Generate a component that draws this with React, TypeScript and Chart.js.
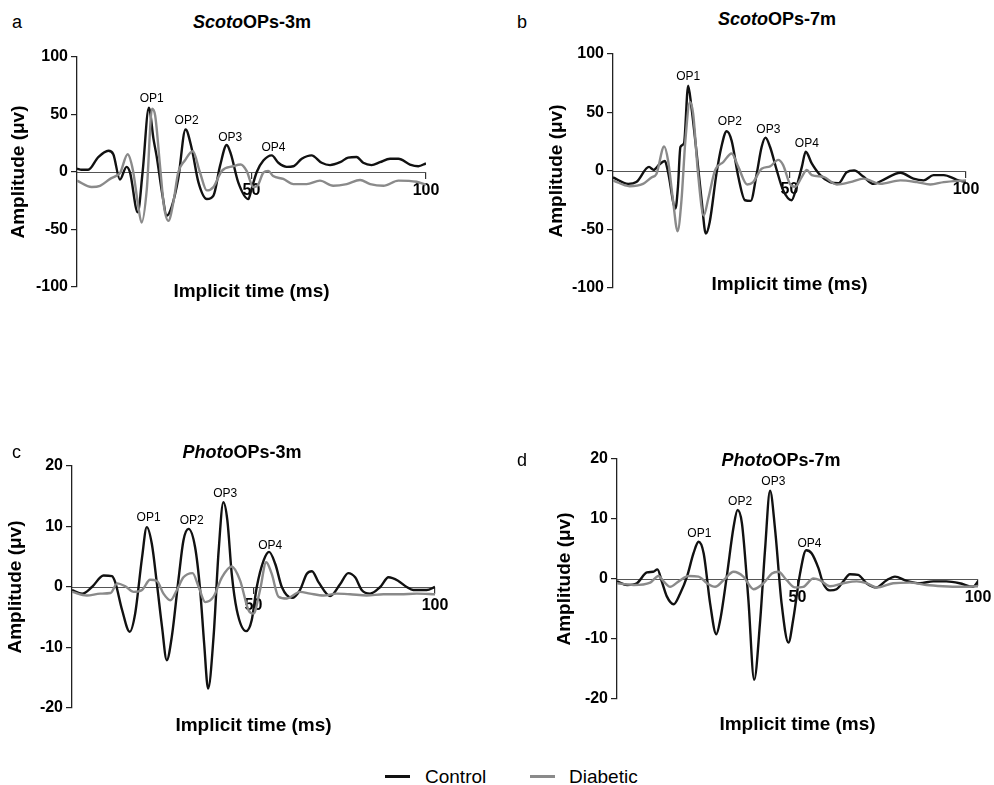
import React, { useEffect, useRef } from "react";
import { Chart, registerables } from "chart.js";

Chart.register(...registerables);

const FONT = "'Liberation Sans', Arial, Helvetica, sans-serif";

// ---------- Data ----------
const opNames = ["OP1", "OP2", "OP3", "OP4"];
const xTickValues = [50, 100];

// a) Scoto OPs 3m
const scoto3ControlTime = [0, 1.3, 3.2, 6.1, 9.0, 10.4, 12.3, 14.2, 15.2, 17.4, 18.8, 20.6, 21.9, 22.8, 24.5, 25.7, 27.1, 29.0, 31.1, 32.9, 34.8, 37.2, 39.1, 41.0, 42.9, 44.1, 46.2, 49.1, 50.0, 51.5, 53.4, 55.8, 57.7, 60.1, 62.0, 64.4, 67.2, 70.1, 72.5, 75.4, 77.7, 80.1, 82.0, 84.4, 86.8, 89.7, 92.1, 95.4, 97.8, 100];
const scoto3ControlAmp = [3, 2, 2, 13, 18.5, 15.5, -6.5, 4.5, -0.5, -35, 0, 56, 29, 14, -20.5, -38, -30.5, -6, 37, 20, -9, -23.5, -20.5, 5.5, 23.5, 15.5, -9, -23.5, -15, 0, 10, 14.5, 8, 4.5, 5, 11.5, 14.5, 8, 6, 8.5, 12.5, 13, 8, 6, 8.5, 11.5, 11.5, 6.5, 5, 7.5];
const scoto3DiabeticTime = [0, 4.2, 6.6, 9.5, 11.4, 12.4, 14.5, 16, 17.4, 18.5, 20, 21.5, 22.4, 23.8, 24.9, 26.2, 27.6, 29, 30.9, 33.2, 35.2, 37.2, 39.1, 41.5, 44.8, 46.9, 48.6, 50.5, 51.7, 53.4, 54.8, 56.2, 59.1, 62, 65.8, 69.6, 73.4, 77.3, 81.1, 84, 87.8, 92.1, 97.3, 100];
const scoto3DiabeticAmp = [-7.5, -13, -12, -6, -3, -0.5, 15.5, 2, -26.5, -44, -15, 55, 49, 5, -29.5, -42.5, -26.5, -0.5, 10, 18, 0, -16, -13, 1, 5, 6.5, 1, -13, -12, -0.5, 1, -3.5, -6, -10.5, -10.5, -7.5, -12, -10.5, -7, -10.5, -12, -7.5, -8.5, -11];
const scoto3OpTime = [21.4, 31.4, 43.9, 56.3];
const scoto3OpAmp = [63.5, 44.6, 30, 21.4];

// b) Scoto OPs 7m
const scoto7ControlTime = [0, 4.3, 6.6, 10.2, 11.5, 13.1, 14.7, 15.6, 17.7, 18.4, 19.1, 20.1, 21.3, 22.2, 23.7, 25.1, 26.3, 27.4, 29.3, 30.7, 32.2, 33.6, 35.5, 37.4, 39, 40.7, 42.1, 43.2, 44.5, 46.4, 48.2, 50.6, 52, 53.5, 54.6, 56.3, 58.7, 61.5, 63.9, 66.2, 68.3, 71, 73.8, 76.6, 81.4, 85.1, 88, 90.8, 93.7, 97.4, 100];
const scoto7ControlAmp = [-5.5, -11, -9.5, 3.5, 1, 5.5, 8.5, -1, -32, -13.5, 20.5, 23.5, 73, 55, 15, -25, -53.5, -43.5, -2.5, 20.5, 34, 26, -5, -25, -25.5, -2.5, 20.5, 28.5, 20.5, 0.5, -16.5, -25, -13.5, 3.5, 16.5, 6.5, -3.5, -9.5, -10.5, -1, 0.5, -5, -11, -7.5, -1.5, -6.5, -8, -3.5, -3.5, -7.5, -9.5];
const scoto7DiabeticTime = [0, 4.7, 8.5, 10.9, 12.3, 14.5, 15.6, 17, 18.3, 19.4, 20.5, 21.8, 22.7, 24.1, 25.7, 27, 28.9, 31.2, 33.6, 35.5, 38, 39.7, 42.1, 44.5, 46.8, 48.2, 50.1, 51.6, 53.5, 54.9, 56.3, 59.6, 63.4, 67.2, 71, 75.7, 81.4, 86.1, 89.9, 93.7, 100];
const scoto7DiabeticAmp = [-8, -13, -11, -5.5, -2.5, 21, 9, -25, -51.5, -25, 26, 59, 49, -2.5, -38, -23.5, 0.5, 7.5, 15, 3.5, -11.5, -9.5, 2, 4, 9.5, 5, -11, -13.5, -5, 1, -3.5, -5, -11.5, -9.5, -6.5, -11, -8, -9.5, -11.5, -9.5, -8];
const scoto7OpTime = [21.3, 33.1, 44, 54.9];
const scoto7OpAmp = [80.6, 42, 35.4, 23.4];

// c) Photo OPs 3m
const photo3ControlTime = [0, 2.8, 5.5, 8.7, 11, 11.9, 13.8, 15.9, 17.4, 19.3, 20.6, 22, 23.4, 24.8, 26.1, 27.5, 29.4, 30.7, 32.1, 33.9, 35.3, 36.4, 37.5, 39, 40.4, 41.7, 42.8, 44, 45.4, 48, 49.5, 50.9, 52.8, 54.3, 56, 57.8, 60.6, 62.8, 64.7, 66.1, 67.9, 71.1, 73.9, 76.1, 78, 79.8, 82.1, 84.9, 87.2, 89.9, 92.2, 94, 97.7, 100];
const photo3ControlAmp = [-0.5, -1.1, 0, 1.9, 1.8, 0.8, -3.8, -7.4, -4.4, 4.9, 9.9, 7.1, 0.5, -6.6, -12.1, -8.2, 1.6, 7.7, 9.6, 6.6, -0.5, -9.3, -16.8, -8.2, 6, 14, 11, 2.2, -3.8, -7.3, -5.5, 0, 4.4, 5.8, 3.8, 0, -1.8, -0.5, 2.2, 2.6, 0.8, -1.5, 0.5, 2.3, 1.6, -0.5, -1.1, 0, 1.6, 1, 0, -0.5, -0.5, 0];
const photo3DiabeticTime = [0, 4.1, 7.8, 10.6, 12.5, 14.7, 17, 19.3, 21.5, 23.4, 25.2, 27.1, 28.9, 30.7, 33.2, 34.9, 36.7, 39, 41.3, 44, 46.3, 48.6, 50, 51.8, 53.5, 55, 56.9, 59.2, 62.8, 65.6, 69.3, 72.9, 76.6, 81.2, 85.8, 90.4, 95, 100];
const photo3DiabeticAmp = [-0.8, -1.4, -1.1, -1, 0.6, 0.1, -0.8, -0.5, 1.2, 1, -1.1, -2.2, -0.5, 1.6, 2.3, 0, -2.5, -1.6, 1.6, 3.4, 1.1, -3.8, -4.4, -0.5, 4.1, 2.2, -1.6, -1.9, -0.8, -1.1, -1.4, -1.1, -1.2, -1.4, -1.2, -1.2, -1.1, -1.2];
const photo3OpTime = [21.1, 33, 42.2, 54.6];
const photo3OpAmp = [11.5, 11, 15.4, 6.9];

// d) Photo OPs 7m
const photo7ControlTime = [0, 2.8, 5.5, 8.3, 10, 11.2, 12.4, 13.8, 15.7, 17.5, 19.4, 21.2, 22.6, 24, 25.8, 27.5, 28.6, 30.4, 32.3, 33.4, 34.6, 36.4, 38, 39.6, 41, 42.4, 43.8, 45.6, 47.5, 48.8, 50.7, 52.4, 53.9, 55.8, 57.1, 59, 60.8, 62.7, 64.5, 66.8, 69.1, 71.9, 74.7, 77, 80.2, 83.9, 87.6, 91.2, 94.9, 98.6, 100];
const photo7ControlAmp = [-0.4, -1, -0.7, 1.1, 1.2, 1.6, -0.4, -2.9, -4.2, -2.4, 0.4, 4.3, 6.2, 4.3, -4.1, -9.2, -6.8, 0.4, 8.7, 11.5, 9.3, -3.5, -16.8, -7.4, 4.8, 14.7, 8.2, -4.1, -10.6, -6.8, 0.9, 4.8, 4.3, 1.8, -0.7, -1.9, -1.7, -0.4, 0.8, 0.7, -0.7, -1.4, -0.2, 0.4, -0.3, -0.7, -0.4, -0.4, -0.7, -1.3, -0.4];
const photo7DiabeticTime = [0, 4.6, 9.2, 11.5, 12.9, 14.7, 17.1, 19.8, 22.6, 24.9, 27.2, 29.5, 32.3, 35, 37.8, 40.6, 42.9, 44.7, 47, 49.3, 51.6, 54.4, 56.2, 59, 62.7, 66.4, 69.1, 71.9, 76.5, 81.1, 85.7, 90.3, 94.9, 100];
const photo7DiabeticAmp = [-0.7, -1, -0.6, 0.5, -0.4, -1.3, -0.4, 0.5, 0.4, -0.7, -1.3, -0.2, 1.2, 0.4, -1.7, -0.7, 0.9, 1.2, -0.2, -1.4, -1.3, 0.1, -0.2, -1.2, -0.7, -0.4, -0.7, -1.4, -0.7, -0.6, -1, -1.2, -1.3, -1.2];
const photo7OpTime = [22.8, 34.1, 43.3, 53.3];
const photo7OpAmp = [7.6, 12.9, 16.2, 5.9];

// ---------- Layout ----------
type PanelSpec = {
  letter: string;
  italic: string;
  rest: string;
  left: number;
  top: number;
  width: number;
  height: number;
  padTop: number;
  padRight: number;
  padBottom: number;
  yWidth: number;
  yTitlePad: number;
  yMin: number;
  yMax: number;
  yStep: number;
  cT: number[];
  cV: number[];
  dT: number[];
  dV: number[];
  opT: number[];
  opV: number[];
  letterX: number;
  letterBase: number;
  titleX: number;
  titleBase: number;
  xTitleY: number;
};

const panels: PanelSpec[] = [
  {
    letter: "a", italic: "Scoto", rest: "OPs-3m",
    left: 0, top: 40, width: 460, height: 260, padTop: 17, padRight: 34, padBottom: 13,
    yWidth: 77, yTitlePad: 7, yMin: -100, yMax: 100, yStep: 50,
    cT: scoto3ControlTime, cV: scoto3ControlAmp, dT: scoto3DiabeticTime, dV: scoto3DiabeticAmp,
    opT: scoto3OpTime, opV: scoto3OpAmp,
    letterX: 12, letterBase: 28, titleX: 252, titleBase: 28, xTitleY: 290,
  },
  {
    letter: "b", italic: "Scoto", rest: "OPs-7m",
    left: 536, top: 40, width: 458, height: 260, padTop: 14, padRight: 28, padBottom: 12,
    yWidth: 77, yTitlePad: 9, yMin: -100, yMax: 100, yStep: 50,
    cT: scoto7ControlTime, cV: scoto7ControlAmp, dT: scoto7DiabeticTime, dV: scoto7DiabeticAmp,
    opT: scoto7OpTime, opV: scoto7OpAmp,
    letterX: 517, letterBase: 28, titleX: 777, titleBase: 25, xTitleY: 283,
  },
  {
    letter: "c", italic: "Photo", rest: "OPs-3m",
    left: 0, top: 450, width: 460, height: 280, padTop: 16, padRight: 25, padBottom: 22,
    yWidth: 72, yTitlePad: 4, yMin: -20, yMax: 20, yStep: 10,
    cT: photo3ControlTime, cV: photo3ControlAmp, dT: photo3DiabeticTime, dV: photo3DiabeticAmp,
    opT: photo3OpTime, opV: photo3OpAmp,
    letterX: 12, letterBase: 458, titleX: 242, titleBase: 458, xTitleY: 724,
  },
  {
    letter: "d", italic: "Photo", rest: "OPs-7m",
    left: 540, top: 445, width: 454, height: 285, padTop: 14, padRight: 16, padBottom: 31,
    yWidth: 77, yTitlePad: 13, yMin: -20, yMax: 20, yStep: 10,
    cT: photo7ControlTime, cV: photo7ControlAmp, dT: photo7DiabeticTime, dV: photo7DiabeticAmp,
    opT: photo7OpTime, opV: photo7OpAmp,
    letterX: 517, letterBase: 466, titleX: 781, titleBase: 466, xTitleY: 723,
  },
];

const CONTROL_COLOR = "#111111";
const DIABETIC_COLOR = "#8a8a8a";

const opLabelPlugin = {
  id: "opLabels",
  afterDatasetsDraw(chart: any, _args: any, opts: any) {
    const items = (opts && opts.items) || [];
    const { ctx, scales } = chart;
    ctx.save();
    ctx.font = `12px ${FONT}`;
    ctx.fillStyle = "#000";
    ctx.textAlign = "center";
    ctx.textBaseline = "middle";
    items.forEach((it: any) => {
      ctx.fillText(it.text, scales.x.getPixelForValue(it.x), scales.y.getPixelForValue(it.y));
    });
    ctx.restore();
  },
};

function zip(t: number[], v: number[]) {
  return t.map((x, i) => ({ x, y: v[i] }));
}

function Panel({ p }: { p: PanelSpec }) {
  const ref = useRef<HTMLCanvasElement | null>(null);
  useEffect(() => {
    if (!ref.current) return;
    const chart = new Chart(ref.current, {
      type: "line",
      data: {
        datasets: [
          {
            label: "Control",
            data: zip(p.cT, p.cV),
            borderColor: CONTROL_COLOR,
            borderWidth: 2.4,
            pointRadius: 0,
            cubicInterpolationMode: "monotone",
            fill: false,
            order: 1,
          },
          {
            label: "Diabetic",
            data: zip(p.dT, p.dV),
            borderColor: DIABETIC_COLOR,
            borderWidth: 2.4,
            pointRadius: 0,
            cubicInterpolationMode: "monotone",
            fill: false,
            order: 0,
          },
        ],
      },
      options: {
        responsive: false,
        animation: false,
        events: [],
        layout: { padding: { left: 0, top: p.padTop, right: p.padRight, bottom: p.padBottom } },
        plugins: {
          legend: { display: false },
          tooltip: { enabled: false },
          opLabels: { items: opNames.map((n, i) => ({ text: n, x: p.opT[i], y: p.opV[i] })) },
        } as any,
        scales: {
          x: {
            type: "linear",
            min: 0,
            max: 100,
            position: { y: 0 } as any,
            afterBuildTicks: (s: any) => {
              s.ticks = xTickValues.map((v) => ({ value: v }));
            },
            afterFit: (s: any) => {
              s.paddingLeft = 0;
              s.paddingRight = 0;
            },
            grid: { display: true, drawOnChartArea: false, drawTicks: true, tickLength: 6, color: "#333", lineWidth: 1.2 },
            border: { display: true, color: "#555", width: 1 },
            ticks: {
              color: "#000",
              padding: 3,
              maxRotation: 0,
              autoSkip: false,
              font: { family: FONT, size: 16, weight: "bold" },
            },
          },
          y: {
            type: "linear",
            position: "left",
            min: p.yMin,
            max: p.yMax,
            afterFit: (s: any) => {
              s.width = p.yWidth;
              s.paddingTop = 0;
              s.paddingBottom = 0;
            },
            grid: { display: true, drawOnChartArea: false, drawTicks: true, tickLength: 6, color: "#222", lineWidth: 1.2 },
            border: { display: true, color: "#222", width: 1.3 },
            ticks: {
              stepSize: p.yStep,
              color: "#000",
              padding: 3,
              font: { family: FONT, size: 16, weight: "bold" },
            },
            title: {
              display: true,
              text: "Amplitude (\u03bcv)",
              color: "#000",
              padding: { top: p.yTitlePad, bottom: 0 },
              font: { family: FONT, size: 19, weight: "bold" },
            },
          },
        },
      } as any,
      plugins: [opLabelPlugin as any],
    });
    return () => chart.destroy();
  }, [p]);

  const chartLeft = p.left + p.yWidth;
  const chartRight = p.left + p.width - p.padRight;
  const xTitleCenter = (chartLeft + chartRight) / 2;

  return (
    <>
      <canvas
        ref={ref}
        width={p.width}
        height={p.height}
        style={{ position: "absolute", left: p.left, top: p.top, width: p.width, height: p.height }}
      />
      <div
        style={{
          position: "absolute",
          left: p.letterX,
          top: p.letterBase - 0.846 * 18,
          fontFamily: FONT,
          fontSize: 18,
          lineHeight: "18px",
          color: "#000",
        }}
      >
        {p.letter}
      </div>
      <div
        style={{
          position: "absolute",
          left: p.titleX - 150,
          width: 300,
          textAlign: "center",
          top: p.titleBase - 0.846 * 18,
          fontFamily: FONT,
          fontSize: 18,
          lineHeight: "18px",
          fontWeight: "bold",
          color: "#000",
          whiteSpace: "nowrap",
        }}
      >
        <i>{p.italic}</i>
        {p.rest}
      </div>
      <div
        style={{
          position: "absolute",
          left: xTitleCenter - 150,
          width: 300,
          textAlign: "center",
          top: p.xTitleY - 9.3,
          fontFamily: FONT,
          fontSize: 19,
          lineHeight: "19px",
          fontWeight: "bold",
          color: "#000",
          whiteSpace: "nowrap",
        }}
      >
        Implicit time (ms)
      </div>
    </>
  );
}

const legendItems = [
  { label: "Control", color: CONTROL_COLOR, lineX: 385, textX: 425 },
  { label: "Diabetic", color: DIABETIC_COLOR, lineX: 530, textX: 569 },
];

export default function App() {
  return (
    <div
      style={{
        position: "absolute",
        left: 0,
        top: 0,
        width: 994,
        height: 785,
        background: "#fff",
        overflow: "hidden",
      }}
    >
      {panels.map((p) => (
        <Panel key={p.letter} p={p} />
      ))}
      {legendItems.map((it) => (
        <React.Fragment key={it.label}>
          <div
            style={{
              position: "absolute",
              left: it.lineX,
              top: 775,
              width: 25,
              height: 2.5,
              background: it.color,
            }}
          />
          <div
            style={{
              position: "absolute",
              left: it.textX,
              top: 776 - 9.3,
              fontFamily: FONT,
              fontSize: 19,
              lineHeight: "19px",
              color: "#000",
              whiteSpace: "nowrap",
            }}
          >
            {it.label}
          </div>
        </React.Fragment>
      ))}
    </div>
  );
}
